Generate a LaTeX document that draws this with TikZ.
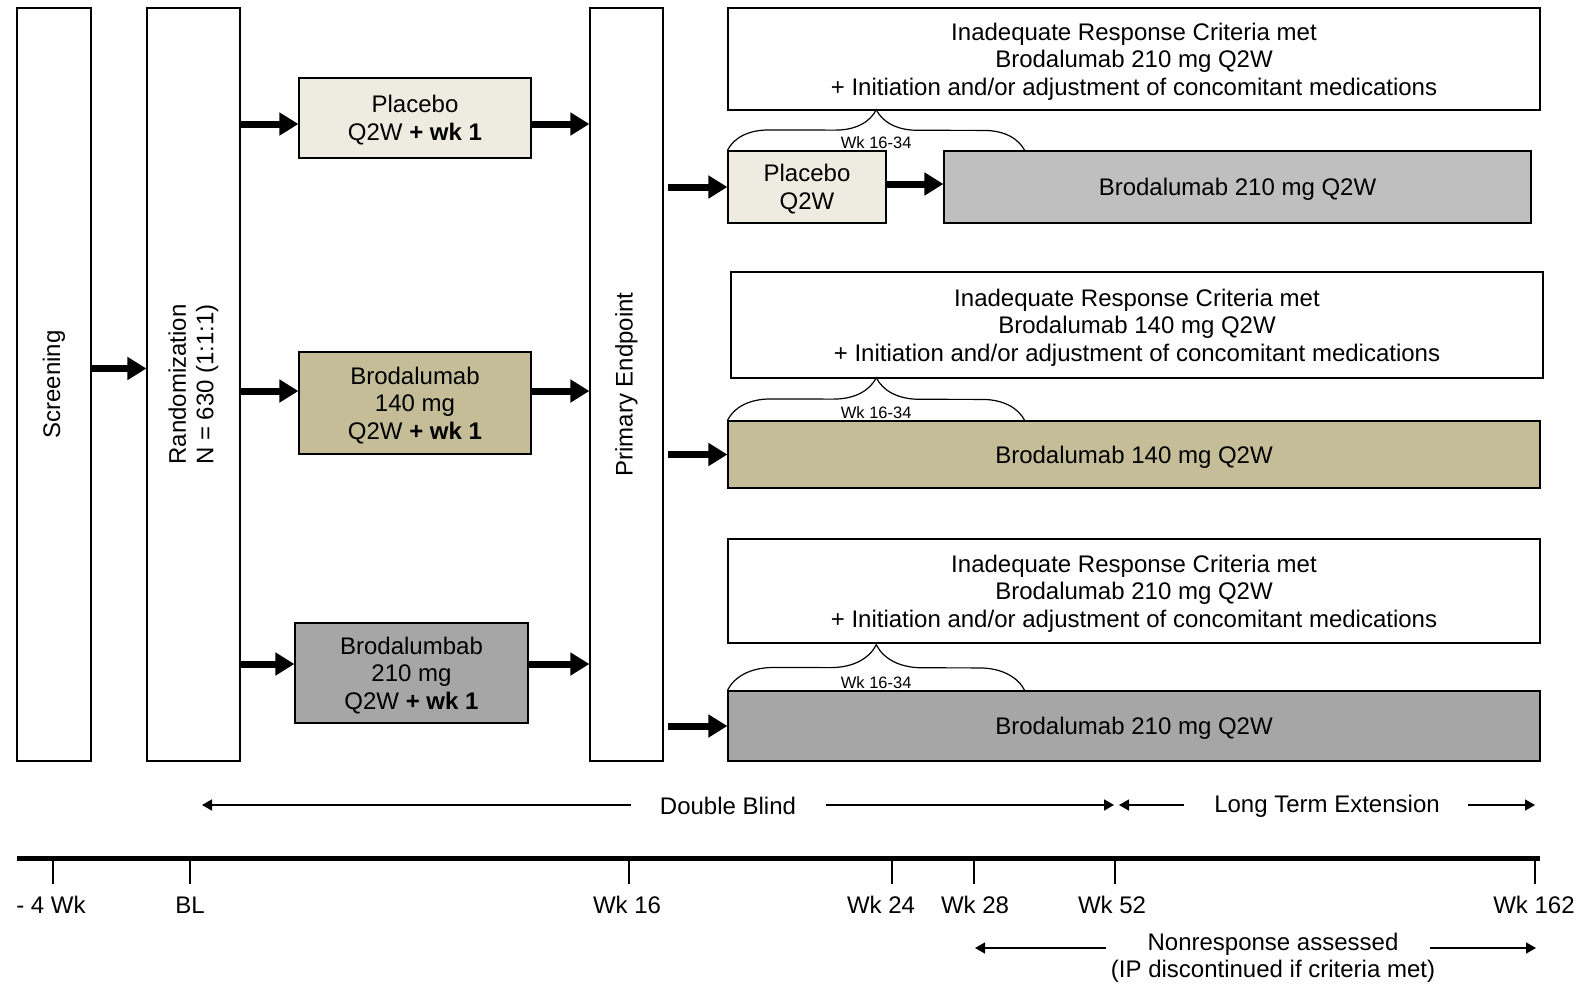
\documentclass[tikz,border=0pt]{standalone}
\usepackage{fontspec}
\setmainfont{Liberation Sans}
\usetikzlibrary{arrows.meta,decorations.pathreplacing}

\definecolor{pbofill}{HTML}{EEECE1}
\definecolor{lowfill}{HTML}{C4BD97}
\definecolor{switchfill}{HTML}{BFBFBF}
\definecolor{highfill}{HTML}{A6A6A6}

\begin{document}
\begin{tikzpicture}[x=1pt, y=-1pt,
            font=\fontsize{24}{27.5}\selectfont,
            box/.style={draw=black, line width=1.2pt, inner sep=0pt, align=center, text depth=0pt},
            phase/.style={box, text depth={}, rotate=90, minimum width=753pt},
            arm/.style={box, minimum width=232pt},
            critbox/.style={box, fill=white, minimum width=812pt},
            bigarrow/.style={line width=7pt, -{Triangle[length=19pt,width=22pt]}},
            spanarrow/.style={line width=1.5pt, -{Triangle[length=10pt,width=11pt]}},
            wkbrace/.style={decorate, decoration={brace, amplitude=#1}, line width=1.2pt},
            wklabel/.style={font=\fontsize{16.5}{18}\selectfont, inner sep=1.5pt},
            tickmark/.style={line width=1.5pt}
        ]
        \useasboundingbox (0,0) rectangle (1581,983);

        % Study phases
        \node[phase, minimum height=74pt] (scr) at (54,384.5) {Screening};
        \node[phase, minimum height=93pt] (rand) at (193.5,384.5) {Randomization\\N = 630 (1:1:1)};
        \node[phase, minimum height=73pt] (pe) at (626.5,384.5) {Primary Endpoint};

        % Randomized arms
        \node[arm, fill=pbofill, minimum height=80pt] (pbo) at (415,118) {Placebo\\Q2W \textbf{+ wk 1}};
        \node[arm, fill=lowfill, minimum height=102pt] (b140) at (415,403) {Brodalumab\\140 mg\\Q2W \textbf{+ wk 1}};
        \node[arm, fill=highfill, minimum width=233pt, minimum height=100pt] (b210) at (411.5,673) {Brodalumbab\\210 mg\\Q2W \textbf{+ wk 1}};

        % Rescue criteria
        \node[critbox, minimum height=102pt] (crit1) at (1134,59) {Inadequate Response Criteria met\\Brodalumab 210 mg Q2W\\+ Initiation and/or adjustment of concomitant medications};
        \node[critbox, minimum height=106pt] (crit2) at (1137,325) {Inadequate Response Criteria met\\Brodalumab 140 mg Q2W\\+ Initiation and/or adjustment of concomitant medications};
        \node[critbox, minimum height=104pt] (crit3) at (1134,591) {Inadequate Response Criteria met\\Brodalumab 210 mg Q2W\\+ Initiation and/or adjustment of concomitant medications};

        % Post week 16 treatment
        \node[box, fill=pbofill, minimum width=158pt, minimum height=72pt] (pbo2) at (807,187) {Placebo\\Q2W};
        \node[box, fill=switchfill, minimum width=587pt, minimum height=72pt] (ext1) at (1237.5,187) {Brodalumab 210 mg Q2W};
        \node[box, fill=lowfill, minimum width=812pt, minimum height=67pt] (ext2) at (1134,454.5) {Brodalumab 140 mg Q2W};
        \node[box, fill=highfill, minimum width=812pt, minimum height=70pt] (ext3) at (1134,726) {Brodalumab 210 mg Q2W};

        % Flow arrows
        \coordinate (scr-out) at ([yshift=16pt]scr.south);
        \draw[bigarrow] (scr-out) -- (rand.north |- scr-out);
        \foreach \arm/\dy in {pbo/-6, b140/12, b210/9} {
            \coordinate (in-\arm) at ([yshift=\dy pt]\arm.west);
            \coordinate (out-\arm) at ([yshift=\dy pt]\arm.east);
            \draw[bigarrow] (rand.south |- in-\arm) -- (in-\arm);
            \draw[bigarrow] (out-\arm) -- (pe.north |- out-\arm);
        }
        \foreach \ext in {pbo2, ext2, ext3}
            \draw[bigarrow, shorten <=4pt] (pe.south |- \ext.west) -- (\ext.west);
        \coordinate (sw-out) at ([yshift=3pt]pbo2.east);
        \draw[bigarrow] (sw-out) -- (ext1.west |- sw-out);

        % Braces for the week 16-34 window
        \coordinate (br1) at (1025,151);
        \coordinate (br2) at (1025,421);
        \coordinate (br3) at (1025,691);
        \draw[wkbrace=41pt] (pbo2.north west) -- (br1);
        \draw[wkbrace=43pt] (ext2.north west) -- (br2);
        \draw[wkbrace=46pt] (ext3.north west) -- (br3);
        \path (pbo2.north west) -- (br1) node[midway, above, wklabel] (wk1) {Wk 16-34};
        \path (ext2.north west) -- (br2) node[midway, above, wklabel] (wk2) {Wk 16-34};
        \path (ext3.north west) -- (br3) node[midway, above, wklabel] (wk3) {Wk 16-34};

        % Study periods
        \node (dblind) at (728,806) {Double Blind};
        \node (lte) at (1327,806) {Long Term Extension};
        \node[align=center] (nonresp) at (1273,958) {Nonresponse assessed\\(IP discontinued if criteria met)};
        \coordinate (db-l) at (202,805);
        \coordinate (db-r) at (1114,805);
        \coordinate (lte-l) at (1119,805);
        \coordinate (lte-r) at (1535,805);
        \coordinate (nr-l) at (975,948);
        \coordinate (nr-r) at (1536,948);
        \draw[spanarrow] ([xshift=-25pt,yshift=1pt]dblind.west) -- (db-l);
        \draw[spanarrow] ([xshift=26pt,yshift=1pt]dblind.east) -- (db-r);
        \draw[spanarrow] ([xshift=-27pt,yshift=1pt]lte.west) -- (lte-l);
        \draw[spanarrow] ([xshift=25pt,yshift=1pt]lte.east) -- (lte-r);
        \draw[spanarrow] ([xshift=-1pt,yshift=10pt]nonresp.west) -- (nr-l);
        \draw[spanarrow] ([xshift=-9pt,yshift=10pt]nonresp.east) -- (nr-r);

        % Time line
        \coordinate (tl-a) at (17,858);
        \coordinate (tl-b) at (1540,858);
        \draw[line width=5pt] (tl-a) -- (tl-b);
        \foreach \x/\lx/\txt in {53/51/- 4 Wk, 190/190/BL, 629/627/Wk 16, 892/881/Wk 24, 974/975/Wk 28, 1115/1112/Wk 52, 1535/1534/Wk 162} {
            \draw[tickmark] (\x,858) -- (\x,884);
            \node (wk\x) at (\lx,905) {\txt};
        }
    \end{tikzpicture}
\end{document}
